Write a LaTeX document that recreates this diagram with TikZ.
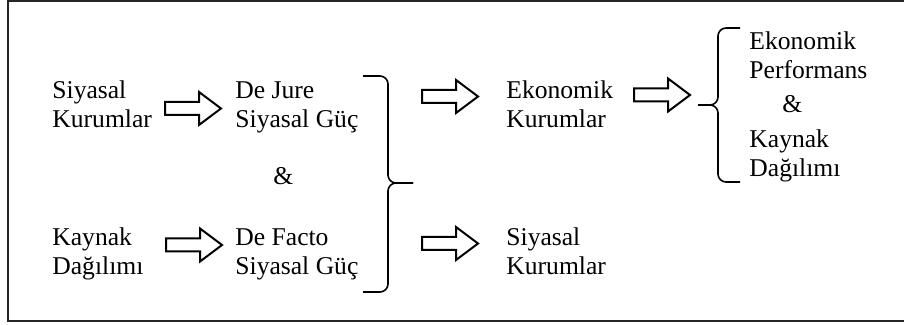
\documentclass[tikz,border=0pt]{standalone}
\usepackage{fontspec}
\setmainfont{Liberation Serif}
\usepackage{tikz}
\usetikzlibrary{positioning}

\tikzset{
  hollowarrow/.pic={
    \draw [line width=1pt, line join=miter] (0,-6.5) -- (34,-6.5) -- (34,-16.5) -- (56,0) -- (34,16.5) -- (34,6.5) -- (0,6.5) -- cycle;
  }
}

\begin{document}
\begin{tikzpicture}[x=0.5pt, y=-0.5pt,
  label/.style={anchor=base west, inner sep=0pt, align=left, font=\fontsize{12.8pt}{14.5pt}\selectfont},
  bracket/.style={line width=0.8pt, rounded corners=4pt}]
\useasboundingbox (0,0) rectangle (904,325);
\draw [line width=1pt, black!85] (910,1) -- (8,1) -- (8,321) -- (910,321);

% left column
\node [label] (sk) at (52,128) {Siyasal\\Kurumlar};
\node [label] (kd) at (52,275) {Kaynak\\Dağılımı};

\coordinate (a1) at (165,108.5);
\pic at (a1) {hollowarrow};
\coordinate (a2) at (166,245);
\pic at (a2) {hollowarrow};

% political power
\node [label] (dj) at (235,128) {De Jure\\Siyasal Güç};
\node [label] (and1) at (273,185) {\&};
\node [label] (df) at (235,275) {De Facto\\Siyasal Güç};

\coordinate (b1) at (363,76);
\coordinate (b2) at (363,292);
\coordinate (bt) at (413,183);
\draw [bracket] (b1) -| (bt -| 388,0) -- (bt);
\draw [bracket] (b2) -| (bt -| 388,0) -- (bt);

\coordinate (a3) at (422,96.5);
\pic at (a3) {hollowarrow};
\coordinate (a4) at (422,243.5);
\pic at (a4) {hollowarrow};

% institutions
\node [label] (ek) at (506,128) {Ekonomik\\Kurumlar};
\node [label] (sk2) at (506,275) {Siyasal\\Kurumlar};

\coordinate (a5) at (634,95);
\pic at (a5) {hollowarrow};

\coordinate (c1) at (740,28);
\coordinate (c2) at (740,182);
\coordinate (ct) at (698,105);
\draw [bracket] (c1) -| (ct -| 718,0) -- (ct);
\draw [bracket] (c2) -| (ct -| 718,0) -- (ct);

% outcomes
\node [label] (ep) at (749,79) {Ekonomik\\Performans};
\node [label] (and2) at (782,113) {\&};
\node [label] (kd2) at (749,177) {Kaynak\\Dağılımı};

\end{tikzpicture}
\end{document}
